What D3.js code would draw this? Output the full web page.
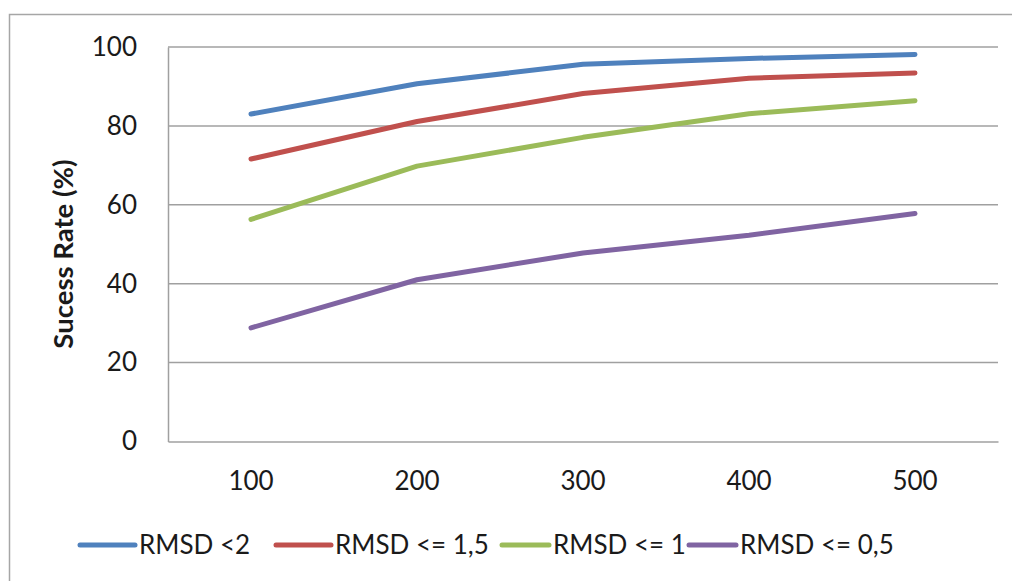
<!DOCTYPE html>
<html>
<head>
<meta charset="utf-8">
<script src="https://cdn.jsdelivr.net/npm/d3@7"></script>
<style>
  html, body { margin: 0; padding: 0; background: #fff; }
  svg { display: block; }
  text { font-family: Lato, "Open Sans", sans-serif; fill: #1a1a1a; }
</style>
</head>
<body>
<svg id="chart" width="1012" height="581"></svg>
<script>
const categories = ["100", "200", "300", "400", "500"];
const seriesNames = ["RMSD <2", "RMSD <= 1,5", "RMSD <= 1", "RMSD <= 0,5"];
const rmsd2 = [83.0, 90.7, 95.6, 97.1, 98.1];
const rmsd15 = [71.6, 81.1, 88.2, 92.1, 93.4];
const rmsd1 = [56.3, 69.8, 77.1, 83.1, 86.4];
const rmsd05 = [28.8, 41.0, 47.8, 52.3, 57.8];
const yTicks = [0, 20, 40, 60, 80, 100];
const colors = ["#4F81BD", "#C0504D", "#9BBB59", "#8064A2"];

const series = [rmsd2, rmsd15, rmsd1, rmsd05].map((v, i) => ({ name: seriesNames[i], values: v, color: colors[i] }));

const svg = d3.select("#chart");
const margin = { left: 168, top: 47, right: 1012 - 998, bottom: 581 - 441.5 };
const W = 1012, H = 581;

// outer frame
svg.append("rect").attr("x", 9.5).attr("y", 14.5).attr("width", 1100).attr("height", 700)
  .attr("fill", "none").attr("stroke", "#a6a6a6").attr("stroke-width", 1.5);

const x = d3.scaleBand().domain(categories).range([margin.left, W - margin.right]);
const y = d3.scaleLinear().domain([0, 100]).range([H - margin.bottom, margin.top]);

// gridlines
svg.append("g").selectAll("line").data(yTicks.filter(t => t > 0)).join("line")
  .attr("x1", margin.left).attr("x2", W - margin.right)
  .attr("y1", d => y(d)).attr("y2", d => y(d))
  .attr("stroke", "#a0a0a0").attr("stroke-width", 1.5);

// y axis
const yAxis = svg.append("g").attr("transform", `translate(${margin.left},0)`)
  .call(d3.axisLeft(y).tickValues(yTicks).tickSize(0).tickPadding(31));
yAxis.select(".domain").attr("stroke", "#a0a0a0").attr("stroke-width", 1.5);
yAxis.selectAll("text").style("font-size", "26px").style("font-family", "Lato").attr("fill", "#1a1a1a");

// x axis
const xAxis = svg.append("g").attr("transform", `translate(0,${y(0)})`)
  .call(d3.axisBottom(x).tickSize(0).tickPadding(30));
xAxis.select(".domain").attr("stroke", "#a0a0a0").attr("stroke-width", 1.5);
xAxis.selectAll("text").style("font-size", "26px").style("font-family", "Lato").attr("fill", "#1a1a1a");

// y title
svg.append("text")
  .attr("transform", `translate(73,254) rotate(-90)`)
  .attr("text-anchor", "middle")
  .style("font-size", "27.5px").style("font-weight", "bold")
  .text("Sucess Rate (%)");

// lines
const line = d3.line()
  .x((d, i) => x(categories[i]) + x.bandwidth() / 2)
  .y(d => y(d));
svg.append("g").selectAll("path").data(series).join("path")
  .attr("d", d => line(d.values))
  .attr("fill", "none").attr("stroke", d => d.color)
  .attr("stroke-width", 5).attr("stroke-linecap", "round").attr("stroke-linejoin", "round");

// legend
const legendX = [80, 276, 502, 689];
const lg = svg.append("g").selectAll("g").data(series).join("g")
  .attr("transform", (d, i) => `translate(${legendX[i]},545)`);
lg.append("line").attr("x1", 0).attr("x2", (d, i) => i < 2 ? 55 : 47)
  .attr("stroke", d => d.color).attr("stroke-width", 5).attr("stroke-linecap", "round");
lg.append("text").attr("x", (d, i) => (i < 2 ? 55 : 47) + 4).attr("dy", "0.35em")
  .style("font-size", "26px").text(d => d.name);
</script>
</body>
</html>
